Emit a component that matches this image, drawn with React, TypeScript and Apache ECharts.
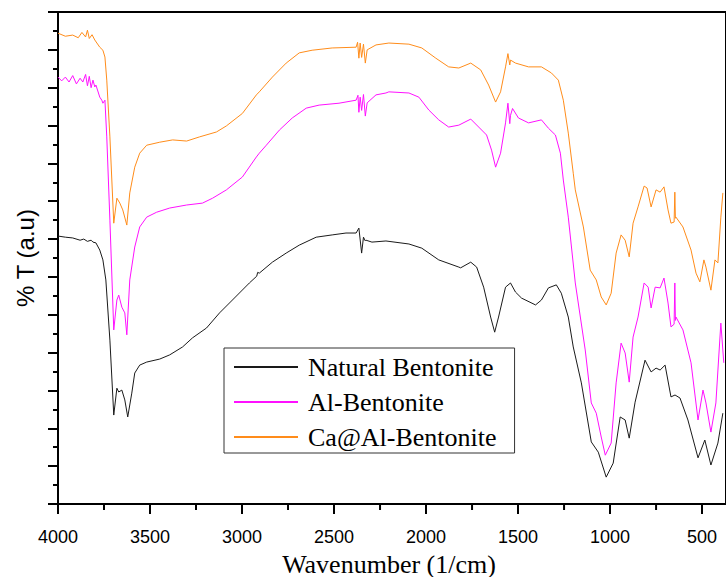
import React, { useEffect, useRef } from "react";
import * as echarts from "echarts";

const seriesNames = ["Natural Bentonite", "Al-Bentonite", "Ca@Al-Bentonite"];
const seriesColors = ["#1a1a1a", "#ff10ff", "#ff8c1a"];

const majorTicks = [4000, 3500, 3000, 2500, 2000, 1500, 1000, 500];
const minorTicks = [3750, 3250, 2750, 2250, 1750, 1250, 750];

const natural: [number, number][] = [
  [4000, 70.8], [3960, 70.5], [3920, 70.3], [3880, 69.7], [3860, 70.0], [3840, 69.4], [3820, 69.7],
  [3810, 69.2], [3794, 69.0], [3773, 67.1], [3756, 64.5], [3740, 59.2], [3718, 43.3], [3697, 23.5],
  [3680, 30.6], [3670, 29.6], [3653, 30.1], [3637, 27.5], [3621, 23.0], [3599, 29.3], [3583, 34.6],
  [3556, 36.7], [3518, 37.5], [3447, 38.3], [3393, 39.4], [3323, 41.5], [3269, 43.9], [3193, 46.5],
  [3122, 50.5], [3052, 53.9], [2960, 58.4], [2920, 60.2], [2915, 61.2], [2906, 61.0], [2835, 63.9],
  [2760, 66.3], [2689, 68.4], [2597, 70.5], [2510, 71.1], [2435, 71.6], [2380, 71.6], [2365, 72.9],
  [2350, 66.3], [2340, 70.5], [2330, 69.5], [2326, 69.7], [2294, 69.2], [2218, 69.5], [2093, 68.7],
  [2023, 67.6], [1931, 64.5], [1822, 62.6], [1812, 62.4], [1757, 63.9], [1725, 62.6], [1687, 57.3],
  [1649, 49.4], [1627, 45.4], [1606, 49.4], [1568, 57.3], [1541, 58.4], [1514, 56.0], [1481, 54.4],
  [1405, 52.6], [1373, 53.9], [1335, 57.1], [1292, 57.9], [1265, 55.7], [1227, 49.4], [1200, 41.5],
  [1156, 32.0], [1102, 16.4], [1064, 13.7], [1021, 7.1], [983, 10.8], [945, 23.0], [918, 22.2],
  [896, 17.4], [864, 26.9], [810, 38.0], [777, 34.9], [750, 35.9], [728, 35.4], [701, 36.7],
  [669, 28.3], [647, 28.8], [620, 28.0], [577, 22.2], [522, 12.2], [485, 16.9], [452, 10.3],
  [414, 16.1], [387, 24.0],
];

const alBentonite: [number, number][] = [
  [4000, 112.8], [3980, 111.8], [3960, 112.8], [3940, 111.5], [3920, 113.2], [3900, 111.0],
  [3880, 112.5], [3865, 111.5], [3850, 113.5], [3840, 110.5], [3830, 113.0], [3820, 110.0],
  [3810, 112.0], [3800, 110.2], [3794, 110.7], [3773, 107.5], [3762, 106.7], [3756, 105.9],
  [3745, 106.7], [3735, 97.0], [3718, 75.0], [3697, 46.0], [3680, 53.9], [3670, 55.2], [3653, 52.0],
  [3637, 50.5], [3626, 44.7], [3610, 59.2], [3583, 67.9], [3556, 73.2], [3518, 75.8], [3464, 77.1],
  [3393, 78.2], [3301, 79.0], [3215, 79.5], [3160, 80.8], [3085, 83.0], [2998, 86.4], [2922, 91.7],
  [2906, 92.7], [2868, 94.8], [2797, 98.8], [2727, 102.0], [2651, 104.6], [2581, 105.4], [2473, 105.9],
  [2380, 106.7], [2370, 108.0], [2365, 103.5], [2358, 107.5], [2350, 104.0], [2340, 108.2],
  [2330, 102.5], [2320, 106.0], [2272, 108.1], [2218, 108.6], [2202, 108.9], [2093, 108.6],
  [2039, 107.5], [1985, 104.1], [1931, 101.5], [1877, 99.6], [1822, 100.1], [1757, 101.7],
  [1714, 99.6], [1671, 97.5], [1644, 93.5], [1622, 89.0], [1595, 92.7], [1568, 100.7], [1555, 105.9],
  [1545, 100.5], [1541, 102.7], [1530, 104.5], [1498, 102.0], [1443, 100.7], [1373, 101.5],
  [1335, 99.3], [1297, 97.5], [1270, 92.7], [1254, 85.6], [1227, 75.8], [1189, 58.4], [1135, 40.7],
  [1102, 26.7], [1075, 24.0], [1048, 17.7], [1026, 12.9], [994, 16.1], [967, 32.0], [940, 42.5],
  [918, 39.9], [896, 32.2], [875, 44.1], [848, 49.4], [815, 58.4], [793, 57.3], [777, 51.8],
  [755, 57.3], [728, 57.1], [707, 59.7], [685, 53.1], [669, 46.8], [652, 47.5], [648, 58.4],
  [645, 48.5], [642, 49.4], [604, 46.0], [560, 37.3], [522, 22.2], [495, 30.1], [479, 26.7],
  [452, 19.0], [425, 26.7], [398, 47.8], [382, 37.3],
];

const caAlBentonite: [number, number][] = [
  [4000, 124.4], [3960, 123.6], [3920, 123.9], [3890, 123.2], [3870, 124.6], [3850, 123.4],
  [3840, 125.2], [3830, 123.0], [3815, 124.0], [3800, 122.6], [3773, 120.7], [3756, 119.9],
  [3745, 118.1], [3735, 112.0], [3718, 97.0], [3697, 74.2], [3680, 80.8], [3664, 79.5], [3648, 77.7],
  [3626, 73.7], [3610, 82.2], [3583, 89.0], [3556, 92.7], [3518, 94.8], [3447, 95.6], [3377, 96.2],
  [3301, 95.9], [3231, 97.0], [3139, 98.3], [3085, 99.9], [2998, 103.2], [2922, 108.1], [2906, 108.9],
  [2835, 112.8], [2760, 116.5], [2689, 119.2], [2619, 119.9], [2510, 120.5], [2380, 120.7],
  [2372, 122.0], [2365, 117.8], [2358, 121.8], [2350, 118.0], [2340, 121.5], [2330, 116.5],
  [2320, 120.0], [2272, 121.3], [2202, 121.8], [2093, 121.5], [2023, 120.5], [1947, 117.8],
  [1877, 115.5], [1822, 115.2], [1757, 116.5], [1703, 114.7], [1660, 110.7], [1622, 106.2],
  [1595, 108.9], [1568, 115.5], [1555, 119.0], [1545, 116.0], [1541, 117.3], [1514, 116.5],
  [1443, 115.5], [1373, 115.5], [1319, 113.9], [1281, 112.0], [1254, 106.7], [1227, 98.0],
  [1200, 87.4], [1189, 83.0], [1145, 73.2], [1108, 61.8], [1075, 59.2], [1048, 54.7], [1021, 52.6],
  [994, 55.7], [967, 66.3], [940, 71.1], [918, 69.7], [896, 65.3], [875, 74.2], [848, 78.5],
  [815, 84.0], [799, 83.5], [777, 78.5], [750, 83.0], [728, 82.4], [707, 83.8], [685, 77.7],
  [669, 74.2], [652, 74.5], [648, 82.4], [645, 75.5], [642, 75.8], [604, 73.2], [560, 67.1],
  [533, 61.0], [512, 58.7], [490, 64.5], [479, 62.6], [452, 56.5], [430, 64.5], [414, 63.7],
  [398, 75.8], [387, 82.2],
];

const allSeries = [natural, alBentonite, caAlBentonite];

export default function App() {
  const ref = useRef<HTMLDivElement>(null);
  useEffect(() => {
    if (!ref.current) return;
    const chart = echarts.init(ref.current, null, { renderer: "svg" });
    const serif = "Liberation Serif";
    const sans = "Liberation Sans";
    const fmt = (v: number) => String(v);
    chart.setOption({
      animation: false,
      backgroundColor: "#fff",
      grid: {
        left: 58,
        top: 12,
        right: -2,
        bottom: 73,
        show: true,
        borderColor: "#000",
        borderWidth: 2,
        containLabel: false,
      },
      legend: {
        orient: "vertical",
        left: 224,
        top: 348,
        padding: [6, 18, 3, 10],
        itemGap: 9,
        itemWidth: 64,
        itemHeight: 2,
        icon: "rect",
        borderColor: "#333",
        borderWidth: 1,
        data: seriesNames,
        textStyle: {
          fontFamily: serif,
          fontSize: 26,
          color: "#000",
          padding: [0, 0, 0, 5],
        },
      },
      graphic: [
        {
          type: "text",
          x: 389,
          y: 564,
          z: 10,
          style: {
            text: "Wavenumber (1/cm)",
            fontFamily: serif,
            fontSize: 26,
            fill: "#000",
            textAlign: "center",
            textVerticalAlign: "middle",
          },
        },
      ],
      xAxis: {
        type: "value",
        inverse: true,
        min: 370,
        max: 4000,
        position: "bottom",
        axisLine: { show: true, lineStyle: { color: "#000", width: 2 } },
        axisTick: {
          show: true,
          length: 10,
          customValues: majorTicks,
          lineStyle: { color: "#000", width: 2 },
        },
        axisLabel: {
          customValues: majorTicks,
          formatter: fmt,
          fontFamily: sans,
          fontSize: 18,
          color: "#000",
          margin: 24,
        },
        splitLine: { show: false },
      },
      yAxis: {
        type: "value",
        min: 0,
        max: 130,
        interval: 10,
        name: "% T (a.u)",
        nameLocation: "middle",
        nameGap: 21,
        nameTextStyle: { fontFamily: sans, fontSize: 24, color: "#000" },
        axisLine: { show: true, lineStyle: { color: "#000", width: 2 } },
        axisTick: { show: true, length: 10, lineStyle: { color: "#000", width: 2 } },
        minorTick: { show: true, splitNumber: 2, length: 5, lineStyle: { color: "#000", width: 2 } },
        axisLabel: { show: false },
        splitLine: { show: false },
      },
      series: [
        ...allSeries.map((d, i) => ({
          name: seriesNames[i],
          type: "line",
          data: d,
          showSymbol: false,
          symbol: "none",
          lineStyle: { color: seriesColors[i], width: 1 },
          itemStyle: { color: seriesColors[i] },
        })),
        {
          name: "_minorTicks",
          type: "custom",
          clip: false,
          silent: true,
          data: minorTicks.map((v) => [v, 0]),
          renderItem: (_params: any, api: any) => {
            const p = api.coord([api.value(0), 0]);
            return {
              type: "line",
              shape: { x1: p[0], y1: p[1], x2: p[0], y2: p[1] + 6 },
              style: { stroke: "#000", lineWidth: 2 },
            };
          },
        },
      ],
    });
    return () => chart.dispose();
  }, []);
  return (
    <div
      ref={ref}
      style={{ position: "fixed", left: 0, top: 0, width: 726, height: 577 }}
    />
  );
}
